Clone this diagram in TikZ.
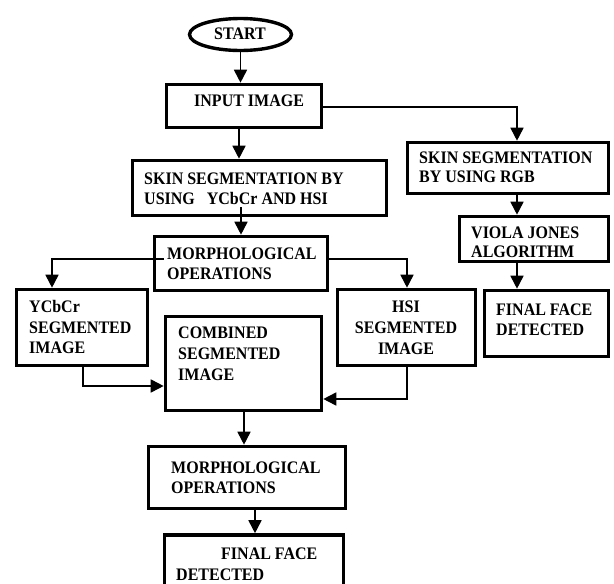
\documentclass[tikz,border=0pt]{standalone}
\usepackage{fontspec}
\usepackage{graphicx}
\setmainfont{Liberation Serif}
\usetikzlibrary{arrows.meta,shapes.geometric,calc}
\newcommand{\tallt}[1]{\scalebox{1}[1.1]{#1}}
\begin{document}
\begin{tikzpicture}[x=1pt,y=-1pt,
  box/.style={draw,line width=3.6pt,rectangle,inner sep=0pt},
  txt/.style={anchor=base west,inner sep=0pt,font=\fontsize{16}{18}\selectfont\bfseries},
  ctxt/.style={anchor=base,inner sep=0pt,font=\fontsize{16}{18}\selectfont\bfseries},
  conn/.style={line width=1.7pt,-{Triangle[width=13pt,length=13pt]}},
  plain/.style={line width=1.7pt}]
\useasboundingbox (0,0) rectangle (614,584);
\clip (0,0) rectangle (614,584);
% shapes
\node[draw,ellipse,line width=3.4pt,minimum width=102pt,minimum height=32pt,inner sep=0pt] (start) at (240.5,34.5) {};
\node[box,minimum width=155pt,minimum height=43pt] (input) at (244,106) {};
\node[box,minimum width=254pt,minimum height=55pt] (skin) at (259.5,188) {};
\node[box,minimum width=201pt,minimum height=51pt] (rgb) at (508,168) {};
\node[box,minimum width=149pt,minimum height=45pt] (viola) at (534,239) {};
\node[box,minimum width=173pt,minimum height=54pt] (morphA) at (241,263.5) {};
\node[box,minimum width=131pt,minimum height=76pt] (ycc) at (82,327.5) {};
\node[box,minimum width=138pt,minimum height=76pt] (hsi) at (406.5,327.5) {};
\node[box,minimum width=156pt,minimum height=94pt] (comb) at (243.5,363.5) {};
\node[box,minimum width=124pt,minimum height=66pt] (ffr) at (546.5,323.5) {};
\node[box,minimum width=197pt,minimum height=62pt] (morphB) at (247,477.5) {};
\node[box,minimum width=179pt,minimum height=64pt] (final) at (254,567) {};
% texts
\node[ctxt] (t0) at (240,39) {\tallt{START}};
\node[txt] (t1) at (194,106) {\tallt{INPUT IMAGE}};
\node[txt] (t2a) at (144,184) {\tallt{SKIN SEGMENTATION BY}};
\node[txt] (t2b) at (144,204) {\tallt{USING\ \ \ YCbCr AND HSI}};
\node[txt] (t3a) at (419,163) {\tallt{SKIN SEGMENTATION}};
\node[txt] (t3b) at (419,182) {\tallt{BY USING RGB}};
\node[txt] (t4a) at (471,238) {\tallt{VIOLA JONES}};
\node[txt] (t4b) at (471,257) {\tallt{ALGORITHM}};
\node[txt] (t5a) at (167,259) {\tallt{MORPHOLOGICAL}};
\node[txt] (t5b) at (167,279) {\tallt{OPERATIONS}};
\node[txt] (t6a) at (29,312) {\tallt{YCbCr}};
\node[txt] (t6b) at (29,333) {\tallt{SEGMENTED}};
\node[txt] (t6c) at (29,353) {\tallt{IMAGE}};
\node[ctxt] (t7a) at (406,312) {\tallt{HSI}};
\node[ctxt] (t7b) at (406,333) {\tallt{SEGMENTED}};
\node[ctxt] (t7c) at (406,354) {\tallt{IMAGE}};
\node[txt] (t8a) at (178,338) {\tallt{COMBINED}};
\node[txt] (t8b) at (178,359) {\tallt{SEGMENTED}};
\node[txt] (t8c) at (178,380) {\tallt{IMAGE}};
\node[txt] (t9a) at (496,315) {\tallt{FINAL FACE}};
\node[txt] (t9b) at (496,335) {\tallt{DETECTED}};
\node[txt] (t10a) at (171,473) {\tallt{MORPHOLOGICAL}};
\node[txt] (t10b) at (171,493) {\tallt{OPERATIONS}};
\node[txt] (t11a) at (221,559) {\tallt{FINAL FACE}};
\node[txt] (t11b) at (176,580) {\tallt{DETECTED}};
% connector coordinates
\coordinate (cRgb) at (517,107);
\coordinate (cSkinOut) at (241,207);
\coordinate (cMorL) at (164,259);
\coordinate (cYccX) at (52,259);
\coordinate (cHsiX) at (407,259);
\coordinate (cYccB) at (83,386);
\coordinate (cHsiB) at (407,399);
% connectors
\draw[conn] (start.south) -- (start.south |- input.north);
\draw[conn] (input.east |- cRgb) -| (cRgb |- rgb.north);
\draw[conn] (cRgb |- rgb.south) -- (cRgb |- viola.north);
\draw[conn] (cRgb |- viola.south) -- (cRgb |- ffr.north);
\draw[conn] (239,0 |- input.south) -- (239,0 |- skin.north);
\draw[conn] (cSkinOut) -- (cSkinOut |- morphA.north);
\draw[conn] (cMorL) -- (cYccX) -- (cYccX |- ycc.north);
\draw[conn] (morphA.east |- cHsiX) -- (cHsiX) -- (cHsiX |- hsi.north);
\draw[conn] (cYccB |- ycc.south) -- (cYccB) -- (cYccB -| comb.west);
\draw[conn] (cHsiB |- hsi.south) -- (cHsiB) -- (cHsiB -| comb.east);
\draw[conn] (244,0 |- comb.south) -- (244,0 |- morphB.north);
\draw[conn] (255,0 |- morphB.south) -- (255,0 |- final.north);
\end{tikzpicture}
\end{document}
